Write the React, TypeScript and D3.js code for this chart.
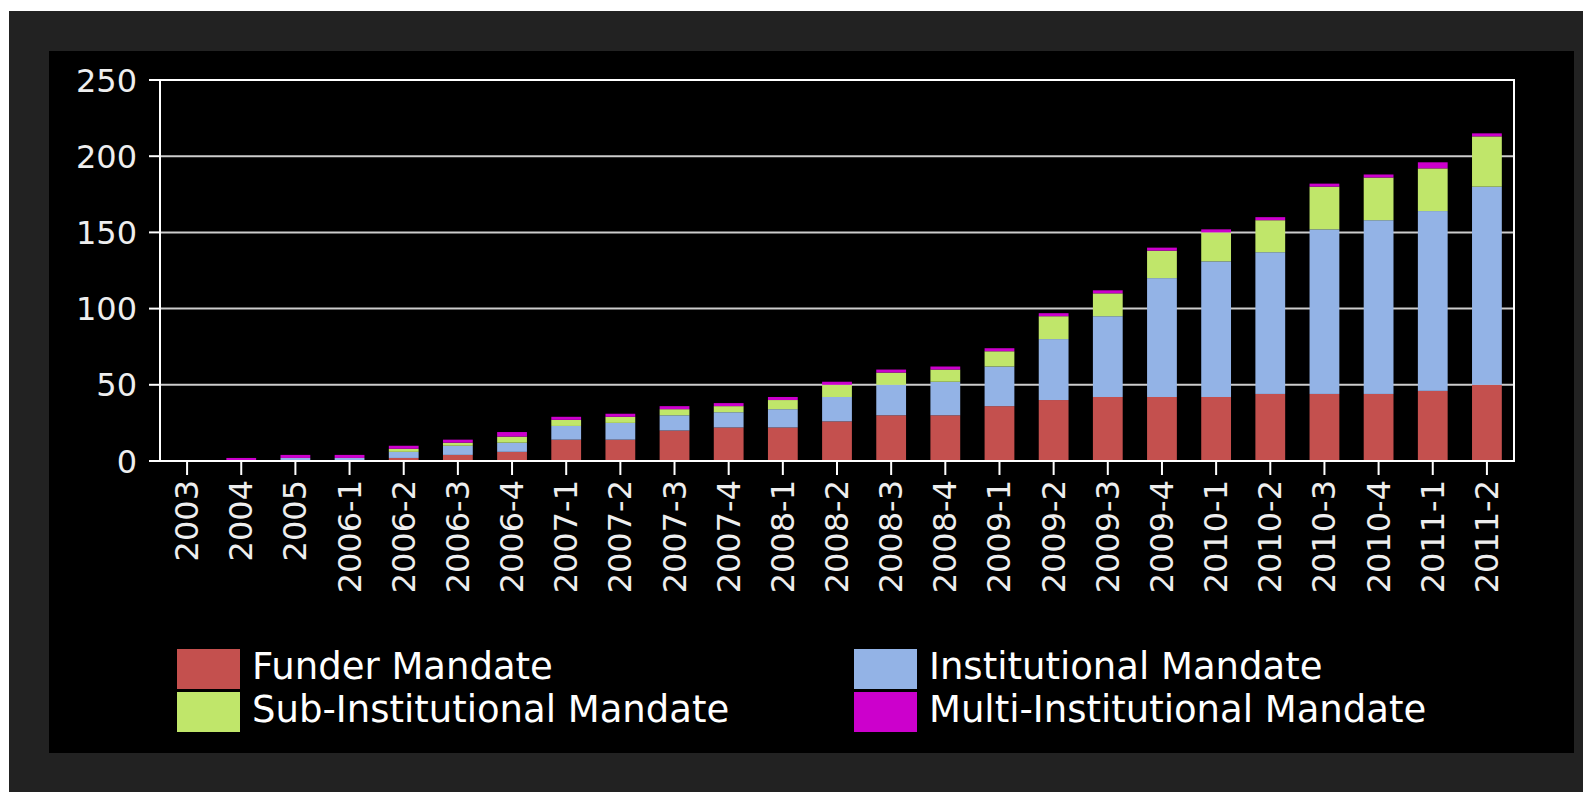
import React from "react";
import * as d3 from "d3";

const categories = [
  "2003", "2004", "2005", "2006-1", "2006-2", "2006-3", "2006-4",
  "2007-1", "2007-2", "2007-3", "2007-4", "2008-1", "2008-2", "2008-3", "2008-4",
  "2009-1", "2009-2", "2009-3", "2009-4", "2010-1", "2010-2", "2010-3", "2010-4",
  "2011-1", "2011-2",
];
const funder = [0, 0, 0, 0, 2, 4, 6, 14, 14, 20, 22, 22, 26, 30, 30, 36, 40, 42, 42, 42, 44, 44, 44, 46, 50];
const institutional = [0, 0, 2, 2, 4, 6, 6, 9, 11, 10, 10, 12, 16, 20, 22, 26, 40, 53, 78, 89, 93, 108, 114, 118, 130];
const subInstitutional = [0, 0, 0, 0, 2, 2, 4, 4, 4, 4, 4, 6, 8, 8, 8, 10, 15, 15, 18, 19, 21, 28, 28, 28, 33];
const multiInstitutional = [0, 2, 2, 2, 2, 2, 3, 2, 2, 2, 2, 2, 2, 2, 2, 2, 2, 2, 2, 2, 2, 2, 2, 4, 2];
const yTicks = [0, 50, 100, 150, 200, 250];

const seriesKeys = ["funder", "institutional", "sub", "multi"];
const seriesNames = ["Funder Mandate", "Institutional Mandate", "Sub-Institutional Mandate", "Multi-Institutional Mandate"];
const seriesColors = ["#c4504e", "#93b3e6", "#c0e66a", "#cc00cc"];

const W = 1583;
const H = 792;
const left = 160;
const right = 1514;
const top = 80;
const bottom = 461;
const font = "DejaVu Sans";

export default function App() {
  const rows = categories.map((c, i) => ({
    cat: c,
    funder: funder[i],
    institutional: institutional[i],
    sub: subInstitutional[i],
    multi: multiInstitutional[i],
  }));

  const x = d3.scaleBand().domain(categories).range([left, right]).paddingInner(0.45).paddingOuter(0.225);
  const y = d3.scaleLinear().domain([0, 250]).range([bottom, top]);
  const stacked = d3.stack<any>().keys(seriesKeys)(rows);

  return (
    <svg width={W} height={H} style={{ position: "absolute", left: 0, top: 0, display: "block" }}>
      <rect x={0} y={0} width={W} height={H} fill="#fff" />
      <rect x={9} y={11} width={W - 9} height={H - 11} fill="#222" />
      <rect x={49} y={51} width={1525} height={702} fill="#000" />

      {/* grid lines */}
      {yTicks.filter((t) => t > 0 && t < 250).map((t) => (
        <line key={"g" + t} x1={left} x2={right} y1={y(t)} y2={y(t)} stroke="#cccccc" strokeWidth={2} />
      ))}

      {/* bars */}
      {stacked.map((s, si) => (
        <g key={s.key} fill={seriesColors[si]}>
          {s.map((d, i) => {
            const h = y(d[0]) - y(d[1]);
            if (h <= 0) return null;
            return <rect key={i} x={x(categories[i])} y={y(d[1])} width={x.bandwidth()} height={h} />;
          })}
        </g>
      ))}

      {/* frame and axes */}
      <line x1={149} x2={right + 1} y1={y(250)} y2={y(250)} stroke="#fff" strokeWidth={2} />
      <line x1={149} x2={right + 1} y1={y(0)} y2={y(0)} stroke="#fff" strokeWidth={2} />
      <line x1={left} x2={left} y1={y(250) - 1} y2={y(0) + 1} stroke="#fff" strokeWidth={2} />
      <line x1={right} x2={right} y1={y(250) - 1} y2={y(0) + 1} stroke="#fff" strokeWidth={2} />

      {/* y axis */}
      {yTicks.map((t) => (
        <g key={"y" + t}>
          <line x1={149} x2={left} y1={y(t)} y2={y(t)} stroke="#fff" strokeWidth={2} />
          <text x={137} y={y(t)} dy="0.36em" textAnchor="end" fill="#eee" fontFamily={font} fontSize={32}>
            {t}
          </text>
        </g>
      ))}

      {/* x axis */}
      {categories.map((c) => {
        const cx = (x(c) as number) + x.bandwidth() / 2;
        return (
          <g key={"x" + c}>
            <line x1={cx} x2={cx} y1={y(0)} y2={y(0) + 14} stroke="#fff" strokeWidth={2} />
            <text
              transform={`translate(${cx + 11},480) rotate(-90)`}
              textAnchor="end"
              fill="#eee"
              fontFamily={font}
              fontSize={32}
            >
              {c}
            </text>
          </g>
        );
      })}

      {/* legend */}
      {seriesNames.map((name, i) => {
        const lx = i % 2 === 0 ? 177 : 854;
        const ly = Math.floor(i / 2) === 0 ? 649 : 692;
        return (
          <g key={name}>
            <rect x={lx} y={ly} width={63} height={40} fill={seriesColors[i]} />
            <text x={lx + 75} y={ly + 30} fill="#fff" fontFamily={font} fontSize={37}>
              {name}
            </text>
          </g>
        );
      })}
    </svg>
  );
}
